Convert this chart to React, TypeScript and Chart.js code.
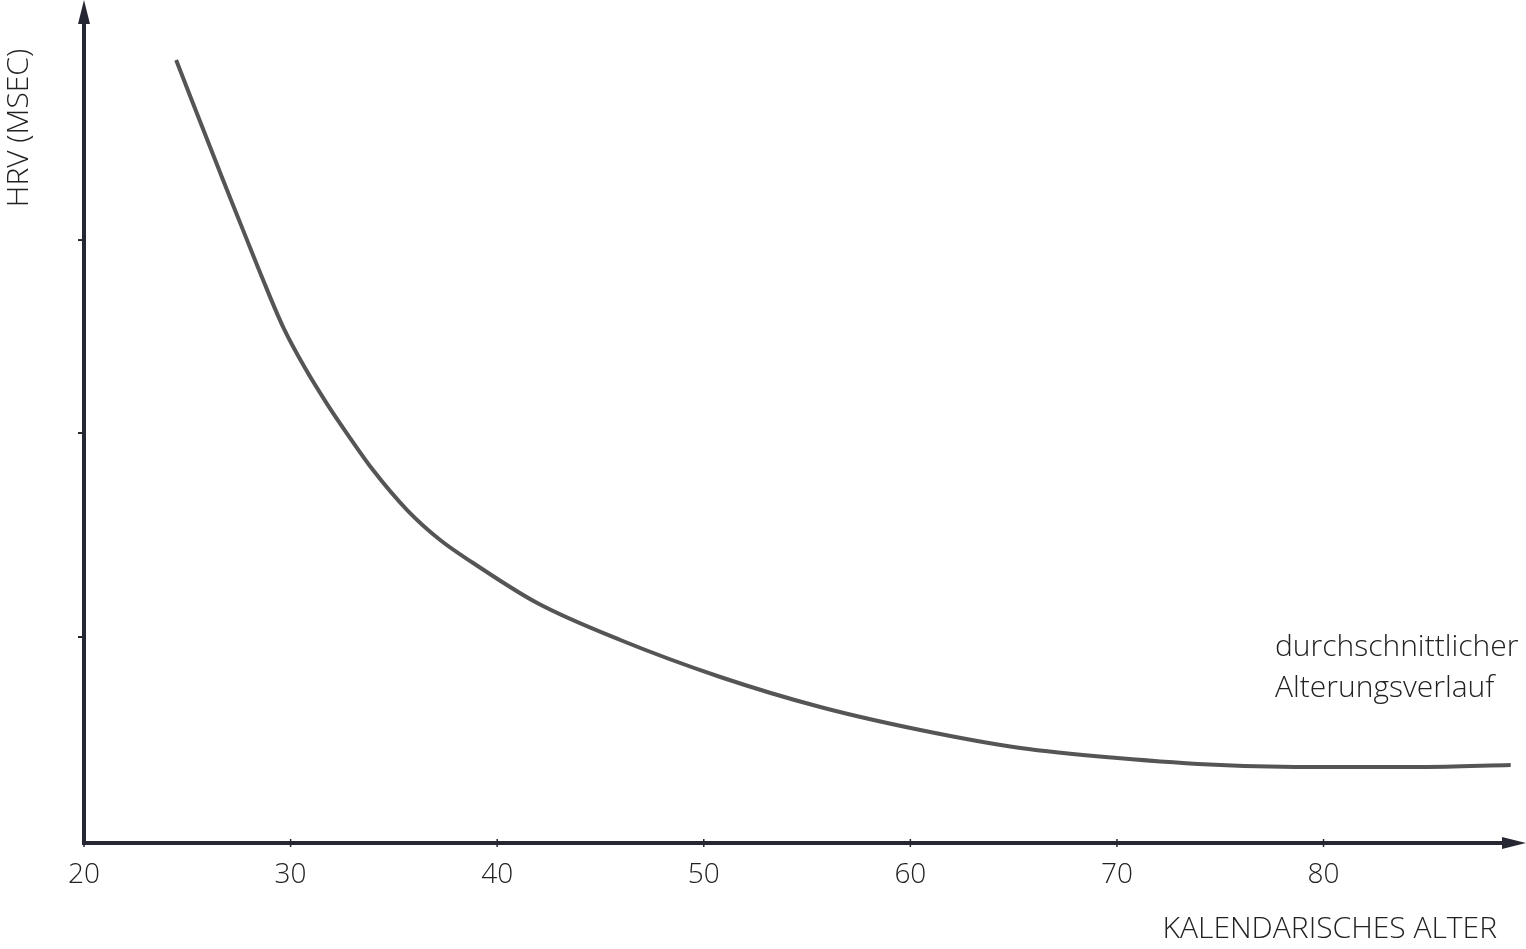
import React, { useEffect, useRef } from "react";
import { Chart, registerables } from "chart.js";

Chart.register(...registerables);

const ages = [24.46, 26.73, 27.7, 28.67, 29.64, 30.7, 31.77, 32.78, 33.99, 35.64, 37.24, 38.84, 41.94, 45.96, 50.8, 55.64, 60.48, 65.33, 70.02, 75.01, 80.0, 84.7, 89.06];
const hrv = [77.91, 65.97, 60.99, 56.02, 51.34, 47.26, 43.68, 40.6, 37.11, 33.13, 30.15, 27.86, 23.88, 20.2, 16.52, 13.53, 11.24, 9.45, 8.46, 7.76, 7.56, 7.56, 7.76];
const xTicks = [20, 30, 40, 50, 60, 70, 80];
const yTicks = [20.5, 40.8, 60];
const xTitle = "KALENDARISCHES ALTER";
const yTitle = "HRV (MSEC)";
const noteLines = ["durchschnittlicher", "Alterungsverlauf"];

const FONT = "'Open Sans', 'Lato', sans-serif";
const AXIS = "#252833";

const axesPlugin = {
  id: "axesArrows",
  afterDraw(chart: any) {
    const { ctx, scales } = chart;
    const x = scales.x;
    const y = scales.y;
    const x0 = x.getPixelForValue(20);
    const y0 = y.getPixelForValue(0);
    const right = chart.width;
    ctx.save();
    ctx.strokeStyle = AXIS;
    ctx.fillStyle = AXIS;
    ctx.lineWidth = 4;
    ctx.lineCap = "butt";
    // y axis
    ctx.beginPath();
    ctx.moveTo(x0, y0 + 2);
    ctx.lineTo(x0, 18);
    ctx.stroke();
    ctx.beginPath();
    ctx.moveTo(x0, 0);
    ctx.lineTo(x0 - 6, 24);
    ctx.lineTo(x0 + 6, 24);
    ctx.closePath();
    ctx.fill();
    // x axis
    ctx.beginPath();
    ctx.moveTo(x0 - 2, y0);
    ctx.lineTo(right - 18, y0);
    ctx.stroke();
    ctx.beginPath();
    ctx.moveTo(right, y0);
    ctx.lineTo(right - 24, y0 - 6);
    ctx.lineTo(right - 24, y0 + 6);
    ctx.closePath();
    ctx.fill();
    // ticks
    ctx.lineWidth = 1.5;
    for (const t of xTicks) {
      const px = x.getPixelForValue(t);
      ctx.beginPath();
      ctx.moveTo(px, y0 - 4);
      ctx.lineTo(px, y0 + 4);
      ctx.stroke();
    }
    ctx.lineWidth = 2;
    for (const t of yTicks) {
      const py = y.getPixelForValue(t);
      ctx.beginPath();
      ctx.moveTo(x0 - 6, py);
      ctx.lineTo(x0, py);
      ctx.stroke();
    }
    // titles
    ctx.fillStyle = "#222222";
    ctx.font = `300 30px ${FONT}`;
    ctx.textAlign = "right";
    ctx.textBaseline = "middle";
    ctx.fillText(xTitle, 1497, 929);
    ctx.textAlign = "left";
    ctx.fillText(noteLines[0], 1275, 647);
    ctx.fillText(noteLines[1], 1275, 688);
    ctx.save();
    ctx.translate(19, 128);
    ctx.rotate(-Math.PI / 2);
    ctx.textAlign = "center";
    ctx.fillText(yTitle, 0, 0);
    ctx.restore();
    ctx.restore();
  },
};

export default function App() {
  const ref = useRef<HTMLCanvasElement | null>(null);
  useEffect(() => {
    if (!ref.current) return;
    const chart = new Chart(ref.current, {
      type: "line",
      data: {
        datasets: [
          {
            data: ages.map((a, i) => ({ x: a, y: hrv[i] })),
            borderColor: "#555555",
            borderWidth: 4,
            pointRadius: 0,
            cubicInterpolationMode: "monotone",
            fill: false,
          },
        ],
      },
      options: {
        animation: false,
        responsive: false,
        maintainAspectRatio: false,
        layout: { padding: { top: 19, right: 0, left: 0, bottom: 0 } },
        plugins: { legend: { display: false }, tooltip: { enabled: false } },
        scales: {
          x: {
            type: "linear",
            min: 20,
            max: 89.8,
            grid: { display: false, drawTicks: false },
            border: { display: false },
            ticks: {
              stepSize: 10,
              padding: 15,
              color: "#222222",
              font: { family: FONT, size: 28, weight: "300" as any },
              maxRotation: 0,
              autoSkip: false,
              callback: (v: any) => (xTicks.includes(Number(v)) ? String(v) : ""),
            },
            afterFit: (s: any) => {
              s.height = 949 - 843;
              s.paddingLeft = 0;
              s.paddingRight = 0;
            },
          },
          y: {
            min: 0,
            max: 82,
            grid: { display: false, drawTicks: false },
            border: { display: false },
            ticks: { display: false },
            afterFit: (s: any) => {
              s.width = 84;
              s.paddingTop = 0;
              s.paddingBottom = 0;
            },
          },
        },
      },
      plugins: [axesPlugin],
    });
    return () => chart.destroy();
  }, []);
  return (
    <div style={{ position: "fixed", left: 0, top: 0, width: 1526, height: 949, background: "#fff" }}>
      <canvas ref={ref} width={1526} height={949} style={{ display: "block" }} />
    </div>
  );
}
